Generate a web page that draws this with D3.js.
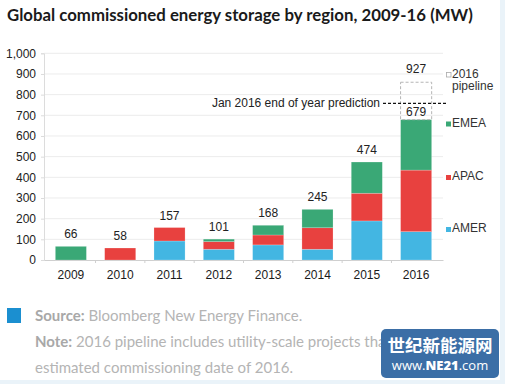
<!DOCTYPE html>
<html><head><meta charset="utf-8">
<script src="https://cdn.jsdelivr.net/npm/d3@7"></script>
<style>body{margin:0;background:#fff}svg{display:block}</style>
</head><body>
<svg id="c" width="505" height="384"></svg>
<script>
const years = ["2009","2010","2011","2012","2013","2014","2015","2016"];
const amer = [0, 0, 92, 52, 73, 52, 189, 137];
const apac = [0, 58, 65, 37, 48, 104, 134, 298];
const emea = [66, 0, 0, 12, 47, 89, 151, 244];
const totals = [66, 58, 157, 101, 168, 245, 474, 679];
const pipelineLabel = 927;
const pipelineBoxTop = 860;
const predictionValue = 758;
const yTicks = [0,100,200,300,400,500,600,700,800,900,1000];
const seriesNames = ["AMER","APAC","EMEA"];
const colors = {AMER:"#43b6e2", APAC:"#e8413f", EMEA:"#3aa876"};

const svg = d3.select("#c");
// page frame strips
svg.append("rect").attr("x",500).attr("y",0).attr("width",5).attr("height",384).attr("fill","#eaf3f9");
svg.append("rect").attr("x",0).attr("y",380).attr("width",505).attr("height",4).attr("fill","#eaf3f9");

svg.append("text").attr("x",7).attr("y",21)
  .attr("font-family","Lato, 'Open Sans', sans-serif").attr("font-weight",700)
  .attr("font-size",16.8).attr("fill","#1a1a1a")
  .text("Global commissioned energy storage by region, 2009-16 (MW)");

const x = d3.scaleBand().domain(years).range([44,443]).paddingInner(0.37).paddingOuter(0.23);
const y = d3.scaleLinear().domain([0,1000]).range([260,53.3]);
const font = "'Liberation Sans', Arial, sans-serif";

// gridlines
svg.append("g").selectAll("line").data(yTicks.slice(1)).join("line")
  .attr("x1",44).attr("x2",443).attr("y1",d=>y(d)).attr("y2",d=>y(d))
  .attr("stroke","#ececec").attr("stroke-width",1);

// y axis
const yAxis = svg.append("g").attr("transform","translate(44,0)")
  .call(d3.axisLeft(y).tickValues(yTicks).tickSize(3).tickPadding(5).tickFormat(d3.format(",")));
yAxis.select(".domain").attr("stroke","#dcdcdc");
yAxis.selectAll(".tick line").attr("stroke","#dcdcdc");
yAxis.selectAll("text").attr("font-family",font).attr("font-size",12).attr("fill","#222");

// x axis
const xAxis = svg.append("g").attr("transform","translate(0,260)")
  .call(d3.axisBottom(x).tickSize(0).tickPadding(10));
xAxis.select(".domain").attr("stroke","#cfcfcf");
xAxis.selectAll("text").attr("font-family",font).attr("font-size",12).attr("fill","#1a1a1a");
// separators between categories
svg.append("g").selectAll("line").data(years.slice(1)).join("line")
  .attr("x1",d=>x(d)-x.step()*x.paddingInner()/2).attr("x2",d=>x(d)-x.step()*x.paddingInner()/2)
  .attr("y1",260).attr("y2",263).attr("stroke","#cfcfcf");

// stacked bars
const table = years.map((yr,i)=>({year:yr, AMER:amer[i], APAC:apac[i], EMEA:emea[i]}));
const stack = d3.stack().keys(seriesNames)(table);
svg.append("g").selectAll("g").data(stack).join("g").attr("fill",d=>colors[d.key])
  .selectAll("rect").data(d=>d).join("rect")
  .attr("x",d=>x(d.data.year)).attr("width",x.bandwidth())
  .attr("y",d=>y(d[1])).attr("height",d=>y(d[0])-y(d[1]))
  .attr("stroke","rgba(255,255,255,0.35)").attr("stroke-width",0.6);

// pipeline dashed box
const last = years[years.length-1];
svg.append("rect").attr("x",x(last)).attr("width",x.bandwidth())
  .attr("y",y(pipelineBoxTop)).attr("height",y(totals[totals.length-1])-y(pipelineBoxTop))
  .attr("fill","none").attr("stroke","#b5b5b5").attr("stroke-dasharray","3,2").attr("stroke-width",1);

// prediction line
svg.append("line").attr("x1",383).attr("x2",446).attr("y1",y(predictionValue)).attr("y2",y(predictionValue))
  .attr("stroke","#111").attr("stroke-dasharray","3,2").attr("stroke-width",1.2);
svg.append("text").attr("x",380).attr("y",y(predictionValue)+4).attr("text-anchor","end")
  .attr("font-family",font).attr("font-size",12).attr("fill","#222")
  .text("Jan 2016 end of year prediction");

// value labels
svg.append("g").selectAll("text").data(years.slice(0,7)).join("text")
  .attr("x",d=>x(d)+x.bandwidth()/2).attr("y",(d,i)=>y(totals[i])-8)
  .attr("text-anchor","middle").attr("font-family",font).attr("font-size",12).attr("fill","#222")
  .text((d,i)=>totals[i]);
svg.append("text").attr("x",x(last)+x.bandwidth()/2).attr("y",y(totals[7])-4)
  .attr("text-anchor","middle").attr("font-family",font).attr("font-size",12).attr("fill","#222")
  .text(totals[7]);
svg.append("text").attr("x",x(last)+x.bandwidth()/2).attr("y",y(pipelineBoxTop)-9)
  .attr("text-anchor","middle").attr("font-family",font).attr("font-size",12).attr("fill","#222")
  .text(pipelineLabel);

// legend
const lg = svg.append("g").attr("font-family",font).attr("font-size",12).attr("fill","#333");
lg.append("rect").attr("x",446.5).attr("y",72.5).attr("width",4.5).attr("height",4.5)
  .attr("fill","#fff").attr("stroke","#aaa").attr("stroke-width",0.8);
lg.append("text").attr("x",452).attr("y",77.5).text("2016");
lg.append("text").attr("x",452).attr("y",90).text("pipeline");
const legY = {EMEA:126.5, APAC:180, AMER:232};
seriesNames.forEach(k=>{
  lg.append("rect").attr("x",446).attr("y",legY[k]-5).attr("width",5).attr("height",5).attr("fill",colors[k]);
  lg.append("text").attr("x",452).attr("y",legY[k]).text(k);
});

// footer
svg.append("defs").append("clipPath").attr("id","footclip")
  .append("rect").attr("x",0).attr("y",290).attr("width",381).attr("height",94);
svg.append("rect").attr("x",7).attr("y",308).attr("width",14).attr("height",15).attr("fill","#1b8fd0");
const ff = "Lato, 'Open Sans', sans-serif";
const t1 = svg.append("text").attr("x",35).attr("y",321).attr("font-family",ff).attr("font-size",15).attr("fill","#b4b4b4");
t1.append("tspan").attr("font-weight",700).attr("fill","#a8a8a8").text("Source:");
t1.append("tspan").text(" Bloomberg New Energy Finance.");
const t2 = svg.append("text").attr("x",35).attr("y",347).attr("font-family",ff).attr("font-size",15).attr("fill","#b4b4b4")
  .attr("clip-path","url(#footclip)");
t2.append("tspan").attr("font-weight",700).attr("fill","#a8a8a8").text("Note:");
t2.append("tspan").text(" 2016 pipeline includes utility-scale projects that");
svg.append("text").attr("x",35).attr("y",373).attr("font-family",ff).attr("font-size",15).attr("fill","#b4b4b4")
  .text("estimated commissioning date of 2016.");

// watermark
svg.append("rect").attr("x",381).attr("y",329).attr("width",118).attr("height",49).attr("rx",5).attr("fill","#3b6ea6");
svg.append("text").attr("x",440).attr("y",352).attr("text-anchor","middle")
  .attr("font-family","'Noto Sans CJK SC', sans-serif").attr("font-weight",700).attr("font-size",17.5).attr("fill","#fff")
  .text("世纪新能源网");
const w = svg.append("text").attr("x",440).attr("y",370).attr("text-anchor","middle")
  .attr("font-family","'Open Sans', sans-serif").attr("font-size",13).attr("fill","#fff");
w.append("tspan").text("www.");
w.append("tspan").attr("font-weight",800).text("NE21");
w.append("tspan").text(".com");
</script>
</body></html>
